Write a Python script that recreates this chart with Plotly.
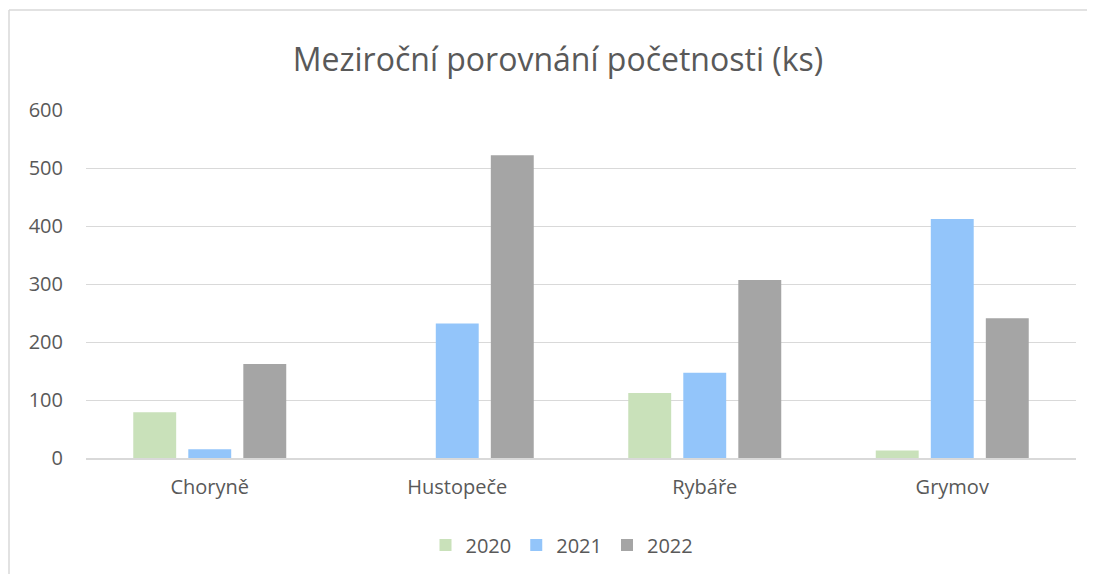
import plotly.graph_objects as go

categories = ["Choryně", "Hustopeče", "Rybáře", "Grymov"]
years = ["2020", "2021", "2022"]
values_2020 = [79, 0, 112, 13]
values_2021 = [15, 232, 147, 412]
values_2022 = [162, 522, 307, 241]
y_ticks = [0, 100, 200, 300, 400, 500, 600]

colors = {"2020": "#C9E1BA", "2021": "#93C5FA", "2022": "#A5A5A5"}
series = {"2020": values_2020, "2021": values_2021, "2022": values_2022}

# page body has an 8px margin, so figure coords are page coords minus 8
W, H = 1095, 574
L, R, T, B = 78, 27, 102, 124
plot_w = W - L - R
plot_h = H - T - B

fig = go.Figure()
for year in years:
    fig.add_trace(
        go.Bar(
            x=categories,
            y=series[year],
            name=year,
            marker={"color": colors[year], "line": {"width": 0}},
        )
    )

fig.update_layout(
    width=W,
    height=H,
    margin={"l": L, "r": R, "t": T, "b": B},
    barmode="group",
    bargap=0.333,
    bargroupgap=0.22,
    paper_bgcolor="white",
    plot_bgcolor="white",
    font={"family": "Open Sans, sans-serif", "color": "#595959", "size": 20},
    title={
        "text": "Meziroční porovnání početnosti (ks)",
        "x": 550 / W,
        "xanchor": "center",
        "xref": "container",
        "y": 1 - 52 / H,
        "yanchor": "middle",
        "yref": "container",
        "font": {"size": 32, "color": "#595959"},
    },
    legend={
        "orientation": "h",
        "x": (554 - L) / plot_w,
        "xanchor": "center",
        "y": (450 - 537) / plot_h,
        "yanchor": "middle",
        "font": {"size": 20},
        "itemwidth": 30,
    },
    showlegend=True,
)
fig.update_xaxes(
    showgrid=False,
    showline=True,
    linecolor="#D9D9D9",
    linewidth=1.5,
    ticks="",
    ticklabelstandoff=10,
)
fig.update_yaxes(
    range=[0, 600],
    tickvals=y_ticks,
    showgrid=True,
    gridcolor="#D9D9D9",
    gridwidth=1,
    zeroline=False,
    showline=False,
    ticks="",
    ticklabelstandoff=22,
)

# chart frame (top and left edges visible in the crop)
x0 = (1 - L) / plot_w
y_top = 1 + (T - 2) / plot_h
y_bot = (T + plot_h - H) / plot_h
fig.add_shape(type="line", xref="paper", yref="paper", x0=x0, x1=(W - L) / plot_w,
              y0=y_top, y1=y_top, line={"color": "#D9D9D9", "width": 1.5})
fig.add_shape(type="line", xref="paper", yref="paper", x0=x0, x1=x0,
              y0=y_top, y1=y_bot, line={"color": "#D9D9D9", "width": 1.5})

fig.write_html("out.html")
